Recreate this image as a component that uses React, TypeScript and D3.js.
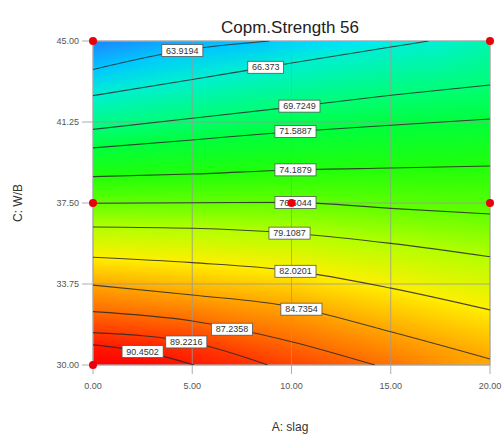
import { useMemo } from "react";
import * as d3 from "d3";

// axis ticks
const xTicks = [0, 5, 10, 15, 20];
const yTicks = [30, 33.75, 37.5, 41.25, 45];

// contour levels and the lines, [A: slag, C: W/B]
const levels = [63.9194, 66.373, 69.7249, 71.5887, 74.1879, 76.6044, 79.1087, 82.0201, 84.7354, 87.2358, 89.2216, 90.4502];
const contourLines: [number, number][][] = [
  [[0, 43.68], [4.5, 44.56], [8.9, 45]],
  [[0, 42.47], [5, 43.22], [10, 43.98], [15, 44.72], [16.9, 45]],
  [[0, 40.91], [5, 41.42], [10, 41.94], [15, 42.49], [20, 42.96]],
  [[0, 40.05], [5, 40.42], [10, 40.8], [15, 41.1], [20, 41.39]],
  [[0, 38.72], [5, 38.84], [10, 39.03], [15, 39.12], [20, 39.21]],
  [[0, 37.49], [5, 37.51], [10, 37.53], [15, 37.25], [20, 36.99]],
  [[0, 36.39], [5, 36.33], [10, 36.1], [15, 35.63], [20, 35.01]],
  [[0, 34.99], [5, 34.74], [10, 34.37], [15, 33.56], [20, 32.55]],
  [[0, 33.7], [5, 33.24], [10, 32.7], [15, 31.54], [20, 30.28]],
  [[0, 32.47], [5, 32.04], [10, 31.08], [14.2, 30]],
  [[0, 31.5], [5, 31.04], [8.8, 30]],
  [[0, 30.93], [2.5, 30.62], [5.1, 30]],
];
const labelX = [4.5, 8.7, 10.4, 10.2, 10.2, 10.2, 9.9, 10.2, 10.5, 7.0, 4.7, 2.5];

// estimated response along the top (C=45) and bottom (C=30) edges at xTicks
const topEdge = [61.6, 63.1, 64.4, 65.8, 67.0];
const bottomEdge = [92.2, 90.5, 88.8, 86.9, 84.4];

// design points
const designPoints: [number, number][] = [[0, 45], [20, 45], [0, 37.5], [10, 37.5], [20, 37.5], [0, 30]];

const colorDomain = [61.5, 64, 65.5, 67, 70, 72.5, 75, 77.5, 80, 82, 84.5, 87, 89.5, 91.5];
const colorRange = ["#1e82ff", "#00c8ff", "#00eaff", "#00f5b0", "#00ff70", "#00ff20", "#30ff00", "#80ff00", "#d0ff00", "#fff000", "#ffaa00", "#ff7000", "#ff3000", "#ff0000"];

const W = 503;
const H = 436;
const left = 93, right = 490, top = 41, bottom = 365;
const font = "'Liberation Sans', Arial, sans-serif";

// y of a polyline at x (undefined outside its range)
const yAt = (pts: [number, number][], x: number) => {
  for (let i = 0; i < pts.length - 1; i++) {
    const [x0, y0] = pts[i];
    const [x1, y1] = pts[i + 1];
    if (x >= x0 && x <= x1) return y0 + ((y1 - y0) * (x - x0)) / (x1 - x0 || 1);
  }
  return undefined;
};

const App = () => {
  const x = d3.scaleLinear().domain([0, 20]).range([left, right]);
  const y = d3.scaleLinear().domain([30, 45]).range([bottom, top]);
  const color = d3.scaleLinear<string>().domain(colorDomain).range(colorRange).clamp(true);
  const edgeX = d3.scaleLinear().domain(xTicks).range(xTicks);
  const topAt = d3.scaleLinear().domain(xTicks).range(topEdge);
  const bottomAt = d3.scaleLinear().domain(xTicks).range(bottomEdge);
  const fmt = d3.format(".2f");
  void edgeX;

  const line = d3
    .line<[number, number]>()
    .x((d) => x(d[0]))
    .y((d) => y(d[1]))
    .curve(d3.curveMonotoneX);

  // vertical colour strips with a stop at each contour crossing
  const strips = useMemo(() => {
    const out: { px: number; stops: { offset: number; color: string }[] }[] = [];
    const step = 2;
    for (let px = left; px < right; px += step) {
      const xv = x.invert(px + step / 2);
      const stops: { y: number; v: number }[] = [
        { y: 45, v: topAt(xv) },
        { y: 30, v: bottomAt(xv) },
      ];
      contourLines.forEach((pts, i) => {
        const yy = yAt(pts, xv);
        if (yy !== undefined) stops.push({ y: yy, v: levels[i] });
      });
      stops.sort((a, b) => b.y - a.y);
      out.push({
        px,
        stops: stops.map((s) => ({ offset: (45 - s.y) / 15, color: color(s.v) })),
      });
    }
    return out;
  }, []);

  return (
    <svg width={W} height={H} style={{ position: "absolute", left: 0, top: 0, background: "#fff" }} fontFamily={font}>
      <defs>
        {strips.map((s, i) => (
          <linearGradient key={i} id={`g${i}`} x1="0" y1="0" x2="0" y2="1">
            {s.stops.map((st, j) => (
              <stop key={j} offset={st.offset} stopColor={st.color} />
            ))}
          </linearGradient>
        ))}
        <clipPath id="plot">
          <rect x={left} y={top} width={right - left} height={bottom - top} />
        </clipPath>
      </defs>

      <text x={290} y={33} textAnchor="middle" fontSize={17} fill="#222">
        Copm.Strength 56
      </text>

      {strips.map((s, i) => (
        <rect key={i} x={s.px} y={top} width={Math.min(2.6, right - s.px)} height={bottom - top} fill={`url(#g${i})`} />
      ))}

      {/* grid + ticks */}
      {xTicks.map((t) => (
        <g key={"x" + t}>
          <line x1={x(t)} x2={x(t)} y1={top} y2={bottom + 9} stroke="#9a9a9a" strokeOpacity={0.8} />
          <text x={x(t)} y={389} textAnchor="middle" fontSize={9} fill="#555">
            {fmt(t)}
          </text>
        </g>
      ))}
      {yTicks.map((t) => (
        <g key={"y" + t}>
          <line x1={left - 11} x2={right} y1={y(t)} y2={y(t)} stroke="#9a9a9a" strokeOpacity={0.8} />
          <text x={79} y={y(t) + 3} textAnchor="end" fontSize={9} fill="#555">
            {fmt(t)}
          </text>
        </g>
      ))}
      <rect x={left} y={top} width={right - left} height={bottom - top} fill="none" stroke="#aaa" />

      <g clipPath="url(#plot)">
        {contourLines.map((pts, i) => (
          <path key={i} d={line(pts) ?? ""} fill="none" stroke="#2a2a2a" strokeWidth={1.1} strokeOpacity={0.85} />
        ))}
      </g>

      {levels.map((lv, i) => {
        const lx = x(labelX[i]);
        const ly = y(yAt(contourLines[i], labelX[i]) ?? 30);
        const label = String(lv);
        const w = label.length * 5.3 + 4;
        return (
          <g key={"l" + i}>
            <rect x={lx - w / 2} y={ly - 6} width={w} height={12} fill="#fff" stroke="#555" strokeWidth={0.8} />
            <text x={lx} y={ly + 3} textAnchor="middle" fontSize={9} fill="#333">
              {label}
            </text>
          </g>
        );
      })}

      {designPoints.map(([a, c], i) => (
        <circle key={"p" + i} cx={x(a)} cy={y(c)} r={4} fill="#e8000b" />
      ))}

      <text x={290} y={431} textAnchor="middle" fontSize={12} fill="#333">
        A: slag
      </text>
      <text transform={`translate(22,${y(37.5)}) rotate(-90)`} textAnchor="middle" fontSize={12} fill="#333">
        C: W/B
      </text>
    </svg>
  );
};

export default App;
